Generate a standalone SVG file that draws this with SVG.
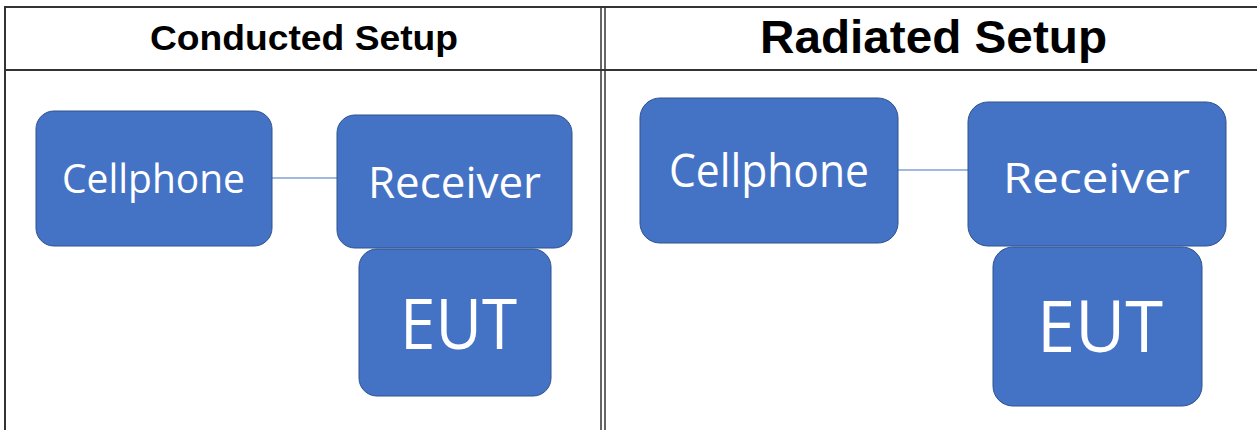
<svg xmlns="http://www.w3.org/2000/svg" width="1257" height="430" viewBox="0 0 1257 430">
<style>
.frame{stroke:#333;stroke-width:2;fill:none}
.hdr{font-family:"Liberation Sans",Arial,sans-serif;font-weight:bold;fill:#000;text-anchor:middle}
.box{fill:#4472C4;stroke:#2F528F;stroke-width:1}
.lbl{font-family:"Open Sans","Noto Sans",sans-serif;fill:#fff;text-anchor:middle}
.conn{stroke:#4472C4;stroke-width:1.2}
</style>
<rect width="1257" height="430" fill="#fff"/>
<g id="table">
<line class="frame" x1="5" y1="7" x2="1257" y2="7"/>
<line class="frame" x1="5" y1="70" x2="1257" y2="70"/>
<line class="frame" x1="5" y1="6" x2="5" y2="430"/>
<line class="frame" x1="601" y1="6" x2="601" y2="430" style="stroke-width:1.5"/>
<line class="frame" x1="605" y1="6" x2="605" y2="430" style="stroke-width:1.5"/>
<text class="hdr" x="304" y="50" font-size="35" textLength="308" lengthAdjust="spacingAndGlyphs">Conducted Setup</text>
<text class="hdr" x="933.5" y="53" font-size="46" textLength="347" lengthAdjust="spacingAndGlyphs">Radiated Setup</text>
</g>
<g id="connectors">
<line class="conn" x1="272" y1="178" x2="337" y2="178"/>
<line class="conn" x1="898" y1="170" x2="968" y2="170"/>
</g>
<g id="c-cellphone">
<rect class="box" x="36" y="111" width="236" height="135" rx="18"/>
<text class="lbl" x="153.5" y="193" font-size="41" textLength="183" lengthAdjust="spacingAndGlyphs">Cellphone</text>
</g>
<g id="c-receiver">
<rect class="box" x="337" y="115" width="235" height="133" rx="18"/>
<text class="lbl" x="454.5" y="198" font-size="43" textLength="173" lengthAdjust="spacingAndGlyphs">Receiver</text>
</g>
<g id="c-eut">
<rect class="box" x="359" y="249" width="192" height="147" rx="18"/>
<text class="lbl" x="458.5" y="349" font-size="69" textLength="117" lengthAdjust="spacingAndGlyphs">EUT</text>
</g>
<g id="r-cellphone">
<rect class="box" x="640" y="98" width="258" height="145" rx="20"/>
<text class="lbl" x="769" y="187" font-size="45" textLength="200" lengthAdjust="spacingAndGlyphs">Cellphone</text>
</g>
<g id="r-receiver">
<rect class="box" x="968" y="102" width="258" height="144" rx="20"/>
<text class="lbl" x="1096.5" y="193" font-size="42" textLength="187" lengthAdjust="spacingAndGlyphs">Receiver</text>
</g>
<g id="r-eut">
<rect class="box" x="993" y="247" width="209" height="159" rx="20"/>
<text class="lbl" x="1100" y="352" font-size="71" textLength="126" lengthAdjust="spacingAndGlyphs">EUT</text>
</g>
</svg>
